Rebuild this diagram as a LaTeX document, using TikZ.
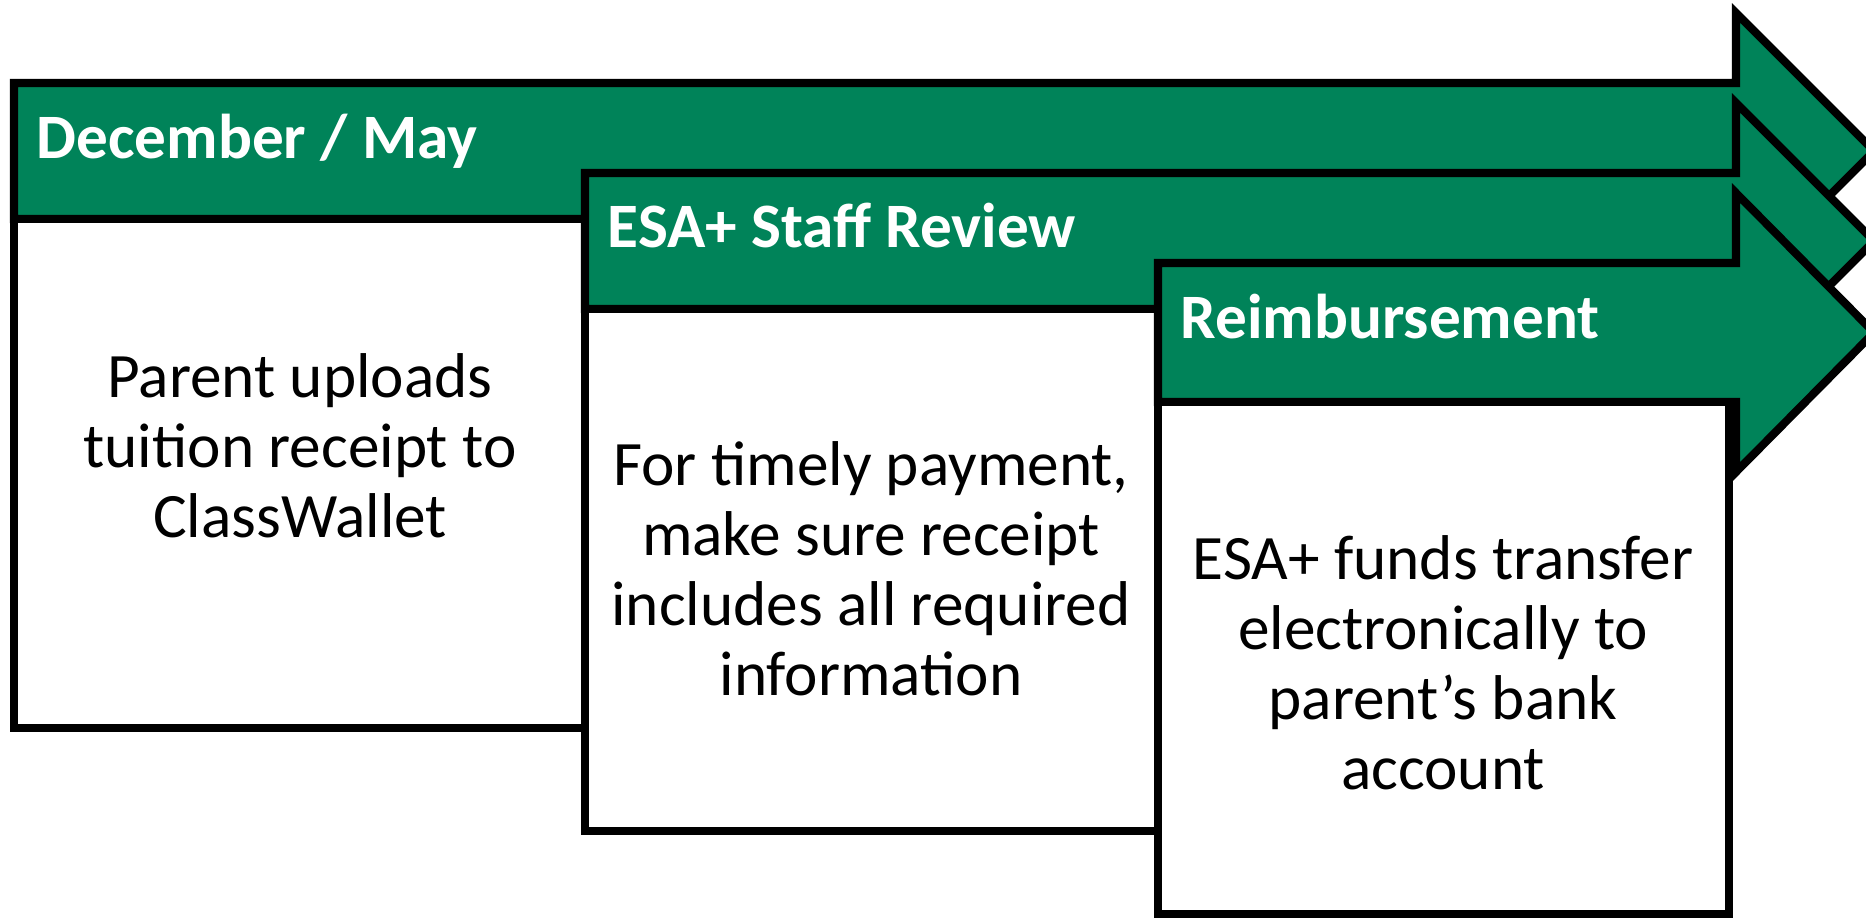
\documentclass[tikz,border=0pt]{standalone}
\usepackage{fontspec}
\setmainfont{Carlito}
\usepackage{tikz}
\definecolor{esagreen}{RGB}{0,131,89}

\tikzset{
  steparrow/.style={fill=esagreen, draw=black, line width=2.3pt},
  stepbody/.style={fill=white, draw=black, line width=2.3pt},
  headtext/.style={anchor=base west, text=white, inner sep=0pt, font=\bfseries\fontsize{18}{20}\selectfont},
  bodytext/.style={align=center, inner sep=0pt, font=\fontsize{18}{19.9}\selectfont},
}

\begin{document}
\begin{tikzpicture}

        \useasboundingbox (0,0) rectangle (18.66,9.17);
        \clip (0,0) rectangle (18.66,9.17);

        % first step
        \draw[steparrow] (0.14,8.34) -- (17.36,8.34) -- (17.36,9.04) -- (18.74,7.66) -- (17.36,6.28) -- (17.36,6.98) -- (0.14,6.98) -- cycle;
        \draw[stepbody] (0.14,6.98) rectangle (5.85,1.89);
        \node[headtext] (dec) at (0.36,7.59) {December / May};
        \node[bodytext] (upload) at (3.00,4.71) {Parent uploads\\tuition receipt to\\ClassWallet};

        % second step
        \draw[steparrow] (5.85,7.44) -- (17.36,7.44) -- (17.36,8.14) -- (18.74,6.76) -- (17.36,5.38) -- (17.36,6.08) -- (5.85,6.08) -- cycle;
        \draw[stepbody] (5.85,6.08) rectangle (11.58,0.86);
        \node[headtext] (review) at (6.07,6.70) {ESA+ Staff Review};
        \node[bodytext] (timely) at (8.71,3.48) {For timely payment,\\make sure receipt\\includes all required\\information};

        % third step
        \draw[steparrow] (11.58,6.54) -- (17.36,6.54) -- (17.36,7.24) -- (18.74,5.845) -- (17.36,4.45) -- (17.36,5.15) -- (11.58,5.15) -- cycle;
        \draw[stepbody] (11.58,5.15) rectangle (17.29,0.03);
        \node[headtext] (reimb) at (11.80,5.79) {Reimbursement};
        \node[bodytext] (funds) at (14.43,2.54) {ESA+ funds transfer\\electronically to\\parent’s bank\\account};

\end{tikzpicture}
\end{document}
